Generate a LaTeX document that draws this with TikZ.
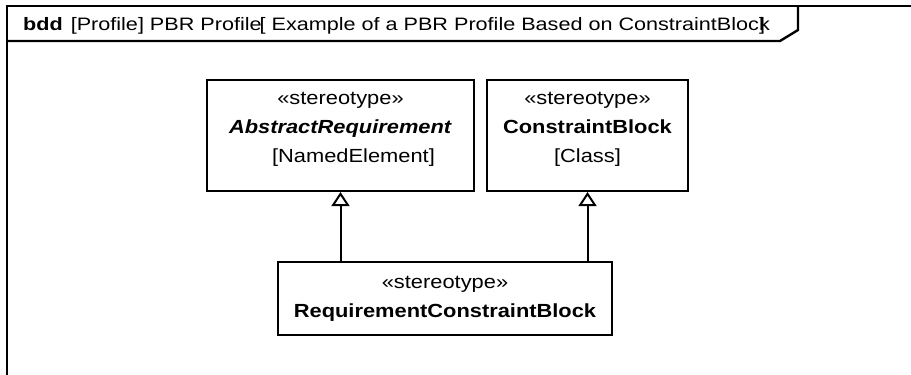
\documentclass[tikz,border=0pt]{standalone}
\usepackage{fontspec}
\setmainfont{Liberation Sans}[FakeStretch=1.15]
\newfontfamily\tabfont{Liberation Sans}[FakeStretch=1.2]
\usetikzlibrary{arrows.meta}

\begin{document}
\begin{tikzpicture}[x=1pt,y=-1pt,line width=2.4pt,
  blk/.style={draw,line width=2.1pt,align=center,inner sep=0pt,font=\fontsize{19}{29}\selectfont},
  gen/.style={line width=2pt,-{Triangle[open,width=18pt,length=14pt]}}]
\useasboundingbox (0,0) rectangle (911,375);
% frame and name tab
\draw (911,6) -- (7,6) -- (7,375);
\draw (7,41) -- (780,41) -- (798,30) -- (798,6);
\node[anchor=base west,inner sep=0pt,font=\tabfont\fontsize{18}{20}\selectfont] (title) at (22,30.5)
  {\textbf{bdd}\hspace{8pt}[Profile] PBR Profile\kern-2pt[ Example of a PBR Profile Based on ConstraintBloc\rlap{]}k};
% stereotypes
\node[blk,minimum width=267pt,minimum height=111pt,text depth=16pt] (absreq) at (340.5,135.5)
  {«stereotype»\\ \textbf{\textit{AbstractRequirement}}\\ \hspace*{26pt}{[NamedElement]}};
\node[blk,minimum width=201pt,minimum height=111pt,text depth=16pt] (cblock) at (587.5,135.5)
  {«stereotype»\\ \textbf{ConstraintBlock}\\ {[Class]}};
\node[blk,minimum width=334pt,minimum height=73pt] (reqcb) at (445,298.5)
  {«stereotype»\\ \textbf{RequirementConstraintBlock}};
% generalizations
\draw[gen] (absreq.south |- reqcb.north) -- (absreq.south);
\draw[gen] (cblock.south |- reqcb.north) -- (cblock.south);
\end{tikzpicture}
\end{document}
